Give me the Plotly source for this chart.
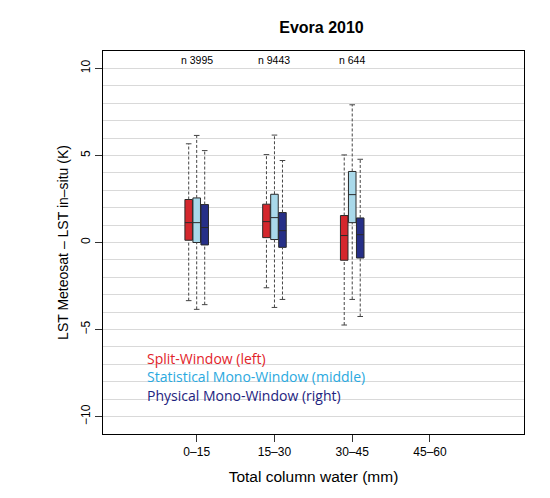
import plotly.graph_objects as go

# data (K)
categories = ["0–15", "15–30", "30–45", "45–60"]
counts = ["n 3995", "n 9443", "n 644"]

# Split-Window (left)
sw_low = [-3.34, -2.60, -4.74]
sw_q1 = [0.13, 0.28, -1.02]
sw_med = [1.14, 1.20, 0.40]
sw_q3 = [2.47, 2.20, 1.55]
sw_high = [5.67, 5.05, 5.03]

# Statistical Mono-Window (middle)
st_low = [-3.84, -3.73, -3.27]
st_q1 = [0.00, 0.17, 1.14]
st_med = [1.14, 1.43, 2.75]
st_q3 = [2.56, 2.77, 4.08]
st_high = [6.15, 6.17, 7.91]

# Physical Mono-Window (right)
ph_low = [-3.57, -3.27, -4.25]
ph_q1 = [-0.14, -0.28, -0.89]
ph_med = [0.86, 0.68, 0.45]
ph_q3 = [2.18, 1.72, 1.41]
ph_high = [5.28, 4.71, 4.78]

series = [
    ("Split-Window (left)", -0.103, "#d4272d", "#e2232a",
     sw_low, sw_q1, sw_med, sw_q3, sw_high),
    ("Statistical Mono-Window (middle)", 0.0, "#a9d9ea", "#2aa9e0",
     st_low, st_q1, st_med, st_q3, st_high),
    ("Physical Mono-Window (right)", 0.103, "#262f87", "#1d2380",
     ph_low, ph_q1, ph_med, ph_q3, ph_high),
]

fig = go.Figure()

for name, off, fill, txtcol, lo, q1, med, q3, hi in series:
    xs = [i + off for i in range(len(med))]
    # dashed whiskers
    wx, wy = [], []
    for x, a, b, c, d in zip(xs, lo, q1, q3, hi):
        wx += [x, x, None, x, x, None]
        wy += [a, b, None, c, d, None]
    fig.add_trace(go.Scatter(
        x=wx, y=wy, mode="lines",
        line=dict(color="#444444", width=1, dash="3px,2px"),
        showlegend=False, hoverinfo="skip"
    ))
    fig.add_trace(go.Scatter(
        x=xs + xs, y=lo + hi, mode="markers",
        marker=dict(symbol="line-ew", size=4,
                    line=dict(color="#444444", width=1)),
        showlegend=False, hoverinfo="skip"
    ))
    fig.add_trace(go.Box(
        x=xs, q1=q1, median=med, q3=q3,
        lowerfence=q1, upperfence=q3,
        width=0.097, whiskerwidth=0,
        fillcolor=fill, line=dict(color="#2a2a2a", width=1),
        name=name, showlegend=False
    ))

# n labels
for i, t in enumerate(counts):
    fig.add_annotation(x=i, y=10.5, text=t, showarrow=False,
                       font=dict(size=10.5, color="black"))

# legend box (text only)
fig.add_shape(type="rect", xref="paper", yref="y",
              x0=0.021, x1=0.644, y0=-10.6, y1=-5.25,
              fillcolor="white", line=dict(width=0), layer="between")
for k, (name, off, fill, txtcol, *_rest) in enumerate(series):
    fig.add_annotation(xref="paper", yref="y", x=0.1, y=-6.64 - 1.08 * k,
                       text=name, showarrow=False, xanchor="left",
                       font=dict(family="Open Sans", size=14, color=txtcol))

# page body adds an 8px offset, margins compensate for it
fig.update_layout(
    width=550, height=498,
    title=dict(text="<b>Evora 2010</b>", x=0.57, xanchor="center",
               y=0.962, yanchor="middle",
               font=dict(family="Liberation Sans", size=16, color="black")),
    font=dict(family="Liberation Sans", color="black"),
    plot_bgcolor="white", paper_bgcolor="white",
    margin=dict(l=95, r=34, t=43, b=72),
    xaxis=dict(
        range=[-1.205, 4.209],
        tickvals=[0, 1, 2, 3], ticktext=categories,
        ticks="outside", ticklen=7, tickcolor="#333333",
        tickfont=dict(size=12),
        showgrid=False, zeroline=False,
        showline=True, mirror=True, linecolor="black", linewidth=1,
        title=dict(text="Total column water (mm)", font=dict(size=15.5), standoff=12),
    ),
    yaxis=dict(
        range=[-11, 11],
        tickvals=[-10, -5, 0, 5, 10],
        tickangle=-90,
        ticks="outside", ticklen=7, tickcolor="#333333",
        tickfont=dict(size=12),
        showgrid=True, gridcolor="#d9d9d9", gridwidth=1,
        minor=dict(dtick=1, showgrid=True, gridcolor="#d9d9d9", gridwidth=1),
        zeroline=False,
        showline=True, mirror=True, linecolor="black", linewidth=1,
        title=dict(text="LST Meteosat – LST in–situ (K)", font=dict(size=14), standoff=7),
    ),
)

fig.write_html("out.html")
